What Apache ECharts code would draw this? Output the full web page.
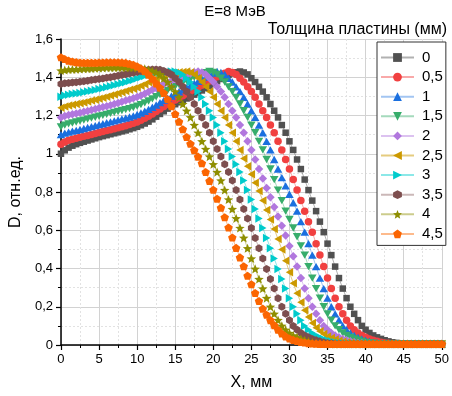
<!DOCTYPE html>
<html>
<head>
<meta charset="utf-8">
<script src="https://cdn.jsdelivr.net/npm/echarts@6/dist/echarts.min.js"></script>
<style>
  html, body { margin: 0; padding: 0; background: #fff; }
  #chart { width: 452px; height: 396px; }
</style>
</head>
<body>
<div id="chart"></div>
<script>
// Depth-dose profiles, E = 8 MeV, for plate thickness 0 ... 4,5 mm
const thickness = ['0', '0,5', '1', '1,5', '2', '2,5', '3', '3,5', '4', '4,5'];

const xMm = [
  0, 0.5, 1, 1.5, 2, 2.5, 3, 3.5, 4, 4.5, 5, 5.5, 6, 6.5, 7, 7.5, 8, 8.5, 9, 9.5,
  10, 10.5, 11, 11.5, 12, 12.5, 13, 13.5, 14, 14.5, 15, 15.5, 16, 16.5, 17, 17.5, 18, 18.5, 19, 19.5,
  20, 20.5, 21, 21.5, 22, 22.5, 23, 23.5, 24, 24.5, 25, 25.5, 26, 26.5, 27, 27.5, 28, 28.5, 29, 29.5,
  30, 30.5, 31, 31.5, 32, 32.5, 33, 33.5, 34, 34.5, 35, 35.5, 36, 36.5, 37, 37.5, 38, 38.5, 39, 39.5,
  40, 40.5, 41, 41.5, 42, 42.5, 43, 43.5, 44, 44.5, 45, 45.5, 46, 46.5, 47, 47.5, 48, 48.5, 49, 49.5, 50
];

const dose0 = [
  1.000,1.018,1.032,1.042,1.050,1.057,1.063,1.069,1.075,1.081,
  1.087,1.092,1.097,1.102,1.107,1.112,1.117,1.122,1.128,1.134,
  1.141,1.149,1.158,1.168,1.180,1.194,1.208,1.222,1.236,1.248,
  1.259,1.269,1.279,1.289,1.299,1.309,1.320,1.331,1.343,1.355,
  1.367,1.379,1.391,1.402,1.412,1.420,1.426,1.430,
  1.425,1.415,1.395,1.375,1.350,1.325,1.295,1.260,1.225,1.190,
  1.150,1.110,1.065,1.020,0.970,0.920,0.865,0.810,0.755,0.700,
  0.645,0.590,0.530,0.470,0.410,0.350,0.295,0.245,0.200,0.163,
  0.130,0.100,0.080,0.063,0.050,0.040,0.032,0.025,0.019,0.014,
  0.011,0.009,0.007,0.006,0.005,0.005,0.005,0.005,0.005,0.005,
  0.005,0.005,0.005
];

const dose05 = [
  1.050,1.062,1.070,1.076,1.081,1.086,1.091,1.096,1.101,1.106,
  1.111,1.116,1.121,1.126,1.131,1.136,1.141,1.147,1.153,1.159,
  1.166,1.175,1.185,1.196,1.208,1.221,1.234,1.247,1.259,1.270,
  1.281,1.292,1.303,1.314,1.325,1.336,1.347,1.358,1.369,1.380,
  1.391,1.402,1.412,1.421,
  1.430,1.425,1.415,1.395,1.375,1.350,1.325,1.295,1.260,1.225,
  1.190,1.150,1.110,1.065,1.020,0.970,0.920,0.865,0.810,0.755,
  0.700,0.645,0.590,0.530,0.470,0.410,0.350,0.295,0.245,0.200,
  0.163,0.130,0.100,0.080,0.063,0.050,0.040,0.032,0.025,0.019,
  0.014,0.011,0.009,0.007,0.006,0.005,0.005,0.005,0.005,0.005,
  0.005,0.005,0.005,0.005,0.005,0.005,0.005
];

const dose1 = [
  1.100,1.108,1.113,1.118,1.122,1.127,1.132,1.137,1.142,1.147,
  1.152,1.157,1.162,1.167,1.172,1.177,1.182,1.187,1.192,1.198,
  1.205,1.213,1.222,1.232,1.243,1.255,1.267,1.279,1.291,1.302,
  1.313,1.324,1.335,1.346,1.357,1.368,1.379,1.390,1.401,1.412,
  1.422,
  1.430,1.425,1.415,1.395,1.375,1.350,1.325,1.295,1.260,1.225,
  1.190,1.150,1.110,1.065,1.020,0.970,0.920,0.875,0.832,0.788,
  0.744,0.700,0.645,0.590,0.530,0.470,0.410,0.350,0.295,0.245,
  0.200,0.163,0.130,0.100,0.080,0.063,0.050,0.040,0.032,0.025,
  0.019,0.014,0.011,0.009,0.007,0.006,0.005,
  0.005,0.005,0.005,0.005,0.005,0.005,0.005,0.005,0.005,0.005,0.005,0.005,0.005
];

const dose15 = [
  1.140,1.150,1.156,1.161,1.166,1.171,1.176,1.181,1.186,1.191,
  1.196,1.201,1.206,1.211,1.216,1.221,1.226,1.231,1.236,1.242,
  1.249,1.257,1.266,1.276,1.287,1.298,1.309,1.320,1.331,1.342,
  1.352,1.362,1.372,1.382,1.391,1.400,1.409,1.417,1.424,
  1.430,1.425,1.415,1.395,1.375,1.350,1.325,1.295,1.260,1.225,
  1.190,1.150,1.110,1.065,1.020,0.970,0.920,0.865,0.810,0.755,
  0.700,0.656,0.612,0.566,0.518,0.470,0.410,0.350,0.295,0.245,
  0.200,0.163,0.130,0.100,0.080,0.063,0.050,0.040,0.032,0.025,
  0.019,0.014,0.011,0.009,0.007,0.006,
  0.005,0.005,0.005,0.005,0.005,0.005,0.005,0.005,0.005,0.005,0.005,0.005,0.005,0.005,0.005,0.005
];

const dose2 = [
  1.190,1.197,1.202,1.207,1.211,1.215,1.219,1.224,1.229,1.234,
  1.239,1.244,1.249,1.254,1.260,1.266,1.272,1.278,1.284,1.290,
  1.297,1.305,1.314,1.324,1.334,1.344,1.354,1.364,1.373,1.382,
  1.390,1.398,1.406,1.413,1.420,1.426,
  1.430,1.425,1.415,1.395,1.375,1.350,1.325,1.295,1.260,1.225,
  1.190,1.150,1.110,1.065,1.020,0.970,0.920,0.870,0.821,0.772,
  0.722,0.672,0.623,0.572,0.518,0.464,0.410,0.350,0.295,0.245,
  0.200,0.163,0.130,0.100,0.080,0.063,0.050,0.040,0.032,0.025,
  0.019,0.014,0.011,0.009,0.007,0.006,
  0.005,0.005,0.005,0.005,0.005,0.005,0.005,0.005,0.005,0.005,
  0.005,0.005,0.005,0.005,0.005,0.005,0.005,0.005,0.005
];

const dose25 = [
  1.240,1.247,1.252,1.256,1.260,1.264,1.268,1.273,1.278,1.283,
  1.288,1.293,1.298,1.304,1.310,1.316,1.322,1.328,1.334,1.340,
  1.347,1.355,1.364,1.374,1.384,1.393,1.401,1.408,1.414,1.419,
  1.423,1.426,1.428,
  1.430,1.425,1.415,1.395,1.375,1.350,1.325,1.295,1.260,1.225,
  1.190,1.150,1.110,1.065,1.020,0.975,0.935,0.893,0.849,0.805,
  0.755,0.706,0.656,0.607,0.554,0.500,0.440,0.380,0.323,0.270,
  0.223,0.182,0.147,0.115,0.090,0.072,0.057,0.045,0.036,0.029,
  0.022,0.017,0.013,0.010,0.008,0.007,0.006,
  0.005,0.005,0.005,0.005,0.005,0.005,0.005,0.005,0.005,0.005,
  0.005,0.005,0.005,0.005,0.005,0.005,0.005,0.005,0.005,0.005,0.005
];

const dose3 = [
  1.298,1.304,1.308,1.312,1.315,1.318,1.321,1.325,1.329,1.333,
  1.338,1.343,1.348,1.353,1.358,1.363,1.368,1.374,1.380,1.386,
  1.393,1.400,1.407,1.413,1.418,1.422,1.425,1.427,1.429,1.430,
  1.430,1.425,1.415,1.395,1.375,1.350,1.325,1.295,1.260,1.225,
  1.190,1.150,1.110,1.065,1.025,0.985,0.945,0.904,0.860,0.810,
  0.761,0.711,0.662,0.612,0.560,0.506,0.452,0.398,0.345,0.295,
  0.245,0.200,0.163,0.130,0.100,0.080,0.063,0.050,0.040,0.032,
  0.025,0.019,0.014,0.011,0.009,0.007,0.006,
  0.005,0.005,0.005,0.005,0.005,0.005,0.005,0.005,0.005,0.005,
  0.005,0.005,0.005,0.005,0.005,0.005,0.005,0.005,0.005,0.005,
  0.005,0.005,0.005,0.005
];

const dose35 = [
  1.365,1.368,1.370,1.372,1.374,1.376,1.379,1.382,1.385,1.388,
  1.391,1.394,1.397,1.400,1.404,1.408,1.412,1.416,1.420,1.424,
  1.428,1.432,1.436,1.439,1.441,1.441,1.439,
  1.433,1.425,1.415,1.395,1.375,1.350,1.325,1.295,1.260,1.225,
  1.190,1.150,1.110,1.065,1.025,0.985,0.945,0.904,0.860,0.810,
  0.761,0.711,0.662,0.612,0.560,0.506,0.452,0.398,0.345,0.295,
  0.245,0.200,0.163,0.130,0.100,0.080,0.063,0.050,0.040,0.032,
  0.025,0.019,0.014,0.011,0.009,0.007,0.006,
  0.005,0.005,0.005,0.005,0.005,0.005,0.005,0.005,0.005,0.005,
  0.005,0.005,0.005,0.005,0.005,0.005,0.005,0.005,0.005,0.005,
  0.005,0.005,0.005,0.005,0.005,0.005,0.005
];

const dose4 = [
  1.435,1.438,1.440,1.441,1.442,1.443,1.444,1.445,1.446,1.447,
  1.448,1.449,1.450,1.450,1.451,1.451,1.451,1.451,1.450,1.450,
  1.449,1.447,1.444,1.439,
  1.432,1.425,1.415,1.395,1.375,1.350,1.325,1.295,1.260,1.225,
  1.190,1.150,1.110,1.065,1.025,0.985,0.945,0.904,0.860,0.810,
  0.761,0.711,0.662,0.612,0.560,0.506,0.452,0.398,0.345,0.295,
  0.245,0.200,0.163,0.130,0.100,0.080,0.063,0.050,0.040,0.032,
  0.025,0.019,0.014,0.011,0.009,0.007,0.006,
  0.005,0.005,0.005,0.005,0.005,0.005,0.005,0.005,0.005,0.005,
  0.005,0.005,0.005,0.005,0.005,0.005,0.005,0.005,0.005,0.005,
  0.005,0.005,0.005,0.005,0.005,0.005,0.005,0.005,0.005,0.005
];

const dose45 = [
  1.505,1.495,1.487,1.482,1.479,1.477,1.476,1.476,1.476,1.476,
  1.477,1.477,1.478,1.478,1.478,1.478,1.477,1.475,1.471,1.465,
  1.457,1.446,1.432,1.413,1.392,1.368,1.345,1.318,1.285,1.248,
  1.208,1.168,1.128,1.088,1.052,1.018,0.985,0.950,0.905,0.858,
  0.812,0.765,0.718,0.668,0.614,0.562,0.508,0.458,0.412,0.362,
  0.318,0.272,0.230,0.190,0.158,0.130,0.104,0.080,0.060,0.045,
  0.034,0.027,0.021,0.016,0.013,0.010,0.008,0.007,0.006,
  0.005,0.005,0.005,0.005,0.005,0.005,0.005,0.005,0.005,0.005,
  0.005,0.005,0.005,0.005,0.005,0.005,0.005,0.005,0.005,0.005,
  0.005,0.005,0.005,0.005,0.005,0.005,0.005,0.005,0.005,0.005,
  0.005,0.005
];

const doseSeries = [dose0, dose05, dose1, dose15, dose2, dose25, dose3, dose35, dose4, dose45];

// Marker colours and shapes, one per thickness
const colors = ['#515151', '#F14040', '#1A6FDF', '#37AD6B', '#B177DE', '#CC9900', '#00CBCC', '#7D4E4E', '#8E8E00', '#FB6501'];
const lineColors = ['rgba(81,81,81,0.45)', 'rgba(241,64,64,0.45)', 'rgba(26,111,223,0.4)', 'rgba(55,173,107,0.45)', 'rgba(177,119,222,0.45)',
                    'rgba(204,153,0,0.5)', 'rgba(0,203,204,0.45)', 'rgba(125,78,78,0.4)', 'rgba(142,142,0,0.45)', 'rgba(251,101,1,0.45)'];
const symbols = [
  'rect',
  'circle',
  'path://M5,0 L10,8.66 L0,8.66 Z',
  'path://M0,0 L10,0 L5,8.66 Z',
  'diamond',
  'path://M8.66,0 L8.66,10 L0,5 Z',
  'path://M0,0 L8.66,5 L0,10 Z',
  'path://M5,0 L9.33,2.5 L9.33,7.5 L5,10 L0.67,7.5 L0.67,2.5 Z',
  'path://M5,0 L6.293,3.22 L9.755,3.455 L7.092,5.68 L7.939,9.045 L5,7.2 L2.061,9.045 L2.908,5.68 L0.245,3.455 L3.707,3.22 Z',
  'path://M5,0 L9.755,3.455 L7.939,9.045 L2.061,9.045 L0.245,3.455 Z'
];
const symbolSizes = [6.5, 7.5, 8.5, 8.5, 8.5, 8.5, 8.5, 8, 9.5, 8.5];

const FONT = '"Liberation Sans", Arial, sans-serif';

const series = doseSeries.map((ys, i) => ({
  name: thickness[i],
  type: 'line',
  data: xMm.map((x, j) => [x, ys[j]]),
  symbol: symbols[i],
  symbolSize: symbolSizes[i],
  symbolKeepAspect: true,
  showSymbol: true,
  showAllSymbol: true,
  itemStyle: { color: colors[i] },
  lineStyle: { color: lineColors[i], width: 1 },
  emphasis: { disabled: true },
  z: 2 + i
}));

const chart = echarts.init(document.getElementById('chart'), null, { renderer: 'canvas' });

chart.setOption({
  animation: false,
  backgroundColor: '#fff',
  textStyle: { fontFamily: FONT },
  grid: { left: 59, top: 39, width: 384, height: 309, containLabel: false },
  xAxis: {
    type: 'value',
    min: 0, max: 50, interval: 5,
    name: 'X, мм',
    nameLocation: 'middle',
    nameGap: 30,
    nameTextStyle: { fontSize: 16, color: '#000', fontFamily: FONT },
    axisLine: { show: true, onZero: false, lineStyle: { color: '#000', width: 1.5 } },
    axisTick: { show: true, length: 5, lineStyle: { color: '#000', width: 1.2 } },
    minorTick: { show: true, splitNumber: 2, length: 3, lineStyle: { color: '#000', width: 1 } },
    axisLabel: { fontSize: 13, color: '#000', margin: 8, fontFamily: FONT },
    splitLine: { show: true, lineStyle: { color: '#d2d2d2', width: 1 } },
    minorSplitLine: { show: true, lineStyle: { color: '#e2e2e2', width: 1, type: [2, 2] } }
  },
  yAxis: {
    type: 'value',
    min: 0, max: 1.6, interval: 0.2,
    name: 'D, отн.ед.',
    nameLocation: 'middle',
    nameGap: 29,
    nameTextStyle: { fontSize: 16, color: '#000', fontFamily: FONT },
    axisLine: { show: true, onZero: false, lineStyle: { color: '#000', width: 1.5 } },
    axisTick: { show: true, length: 5, lineStyle: { color: '#000', width: 1.2 } },
    minorTick: { show: true, splitNumber: 2, length: 3, lineStyle: { color: '#000', width: 1 } },
    axisLabel: {
      fontSize: 13, color: '#000', margin: 8, fontFamily: FONT,
      formatter: v => String(Math.round(v * 10) / 10).replace('.', ',')
    },
    splitLine: { show: true, lineStyle: { color: '#d2d2d2', width: 1 } },
    minorSplitLine: { show: true, lineStyle: { color: '#e2e2e2', width: 1, type: [2, 2] } }
  },
  legend: {
    data: thickness,
    orient: 'vertical',
    left: 377,
    top: 42,
    padding: [8, 3, 4, 3],
    itemWidth: 33,
    itemHeight: 11,
    itemGap: 4.6,
    borderColor: '#333',
    borderWidth: 1,
    backgroundColor: '#fff',
    selectedMode: false,
    textStyle: { fontSize: 15, color: '#000', fontFamily: FONT, padding: [0, 0, 0, 3] }
  },
  graphic: [
    {
      type: 'text', x: 235, y: 12,
      style: { text: 'E=8 МэВ', fontSize: 15, fontFamily: FONT, fill: '#000', align: 'center', verticalAlign: 'middle' }
    },
    {
      type: 'text', x: 447, y: 30,
      style: { text: 'Толщина пластины (мм)', fontSize: 16, fontFamily: FONT, fill: '#000', align: 'right', verticalAlign: 'middle' }
    }
  ],
  series: series
});
</script>
</body>
</html>
